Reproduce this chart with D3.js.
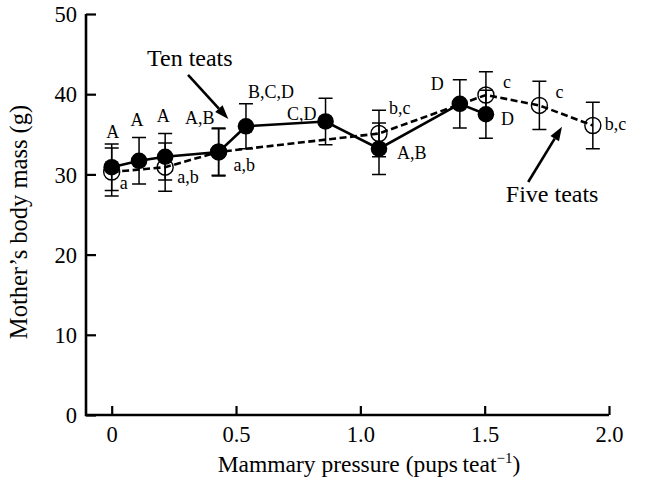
<!DOCTYPE html>
<html>
<head>
<meta charset="utf-8">
<script src="https://cdn.jsdelivr.net/npm/d3@7/dist/d3.min.js"></script>
<style>
  html, body { margin: 0; padding: 0; background: #fff; }
  svg { display: block; font-family: "Liberation Serif", "Times New Roman", serif; }
</style>
</head>
<body>
<svg id="chart" width="662" height="490"></svg>
<script>
// Ten teats (filled markers)
const tenX     = [0, 0.11, 0.215, 0.43, 0.54, 0.86, 1.075, 1.40, 1.505];
const tenMean  = [30.9, 31.7, 32.2, 32.8, 36.0, 36.6, 33.2, 38.8, 37.5];
const tenSem   = [2.9, 2.9, 2.9, 3.0, 2.8, 2.9, 3.2, 3.0, 3.0];
const tenGroup = ["A", "A", "A", "A,B", "B,C,D", "C,D", "A,B", "D", "D"];

// Five teats (open markers)
const fiveX     = [0, 0.215, 0.43, 1.075, 1.505, 1.72, 1.935];
const fiveMean  = [30.3, 30.9, 32.8, 35.1, 39.9, 38.6, 36.1];
const fiveSem   = [3.0, 3.0, 2.9, 2.9, 2.9, 3.0, 2.9];
const fiveGroup = ["a", "a,b", "a,b", "b,c", "c", "c", "b,c"];

const xTicks = [0, 0.5, 1.0, 1.5, 2.0];
const xTickLabels = ["0", "0.5", "1.0", "1.5", "2.0"];
const yTicks = [0, 10, 20, 30, 40, 50];

// label placement relative to each marker: [dx, dy, anchor]
const tenLabelPos = [
  [1, -29, "middle"], [-2, -35, "middle"], [-2, -35, "middle"], [-4, -28, "end"],
  [2, -28, "start"], [-9, -1, "end"], [18, 10, "start"], [-16, -14, "end"], [15, 11, "start"]
];
const fiveLabelPos = [
  [8, 17, "start"], [12, 16, "start"], [15, 19, "start"], [10, -19.5, "start"],
  [17, -7, "start"], [16, -7, "start"], [12, 5, "start"]
];

const svg = d3.select("#chart");
const x = d3.scaleLinear().domain([0, 2]).range([111.7, 609]);
const y = d3.scaleLinear().domain([0, 50]).range([415, 14]);
const axisLeftX = 86;

// axes
const axisG = svg.append("g").attr("stroke", "#000").attr("fill", "none");
axisG.append("path")
  .attr("d", `M${axisLeftX},${y(50)}V${y(0)}H${x(2)}`)
  .attr("stroke-width", 2.6);

const xAxis = d3.axisBottom(x).tickValues(xTicks).tickSize(-9).tickFormat((d, i) => xTickLabels[i]);
const gx = svg.append("g").attr("transform", `translate(0,${y(0)})`).call(xAxis);
gx.select(".domain").remove();
gx.selectAll(".tick line").attr("stroke", "#000").attr("stroke-width", 2.2);
gx.selectAll(".tick text")
  .attr("y", 27).attr("dy", 0)
  .attr("font-size", 22.5).attr("font-family", "Liberation Serif").attr("fill", "#000");

const yAxis = d3.axisLeft(y).tickValues(yTicks).tickSize(-10).tickFormat(d3.format("d"));
const gy = svg.append("g").attr("transform", `translate(${axisLeftX},0)`).call(yAxis);
gy.select(".domain").remove();
gy.selectAll(".tick line").attr("stroke", "#000").attr("stroke-width", 2.2);
gy.selectAll(".tick text")
  .attr("x", -9).attr("dy", "0.34em")
  .attr("font-size", 22.5).attr("font-family", "Liberation Serif").attr("fill", "#000");

// axis titles
svg.append("text")
  .attr("x", 369).attr("y", 472)
  .attr("text-anchor", "middle").attr("font-size", 23.5)
  .call(t => {
    t.append("tspan").text("Mammary pressure (pups\u2009teat");
    t.append("tspan").attr("font-size", 15).attr("dy", -9).text("\u22121");
    t.append("tspan").attr("dy", 9).text(")");
  });

svg.append("text")
  .attr("transform", `translate(27,222) rotate(-90)`)
  .attr("text-anchor", "middle").attr("font-size", 24.5)
  .text("Mother\u2019s body mass (g)");

const plot = svg.append("g");

// error bars
function errorBars(xs, means, sems) {
  const g = plot.append("g").attr("stroke", "#000").attr("stroke-width", 1.5).attr("fill", "none");
  xs.forEach((xv, i) => {
    const cx = x(xv), top = y(means[i] + sems[i]), bot = y(means[i] - sems[i]);
    g.append("path").attr("d", `M${cx},${top}V${bot}M${cx - 7},${top}H${cx + 7}M${cx - 7},${bot}H${cx + 7}`);
  });
}
errorBars(fiveX, fiveMean, fiveSem);
errorBars(tenX, tenMean, tenSem);

const line = d3.line().x(d => x(d[0])).y(d => y(d[1]));

// five teats: dashed line and open circles
plot.append("path")
  .datum(fiveX.map((v, i) => [v, fiveMean[i]]))
  .attr("d", line)
  .attr("fill", "none").attr("stroke", "#000").attr("stroke-width", 2.6)
  .attr("stroke-dasharray", "7,3.5");

plot.selectAll(".open").data(fiveX).enter().append("circle")
  .attr("cx", d => x(d)).attr("cy", (d, i) => y(fiveMean[i]))
  .attr("r", 8).attr("fill", "none").attr("stroke", "#000").attr("stroke-width", 1.4);

// ten teats: solid line and filled circles
plot.append("path")
  .datum(tenX.map((v, i) => [v, tenMean[i]]))
  .attr("d", line)
  .attr("fill", "none").attr("stroke", "#000").attr("stroke-width", 2.6);

plot.selectAll(".filled").data(tenX).enter().append("circle")
  .attr("cx", d => x(d)).attr("cy", (d, i) => y(tenMean[i]))
  .attr("r", 8.3).attr("fill", "#000");

// group letters
function groupLabels(xs, means, labels, pos) {
  plot.append("g").selectAll("text").data(labels).enter().append("text")
    .attr("x", (d, i) => x(xs[i]) + pos[i][0])
    .attr("y", (d, i) => y(means[i]) + pos[i][1])
    .attr("text-anchor", (d, i) => pos[i][2])
    .attr("font-size", 18).attr("fill", "#000")
    .text(d => d);
}
groupLabels(tenX, tenMean, tenGroup, tenLabelPos);
groupLabels(fiveX, fiveMean, fiveGroup, fiveLabelPos);

// series annotations with arrows
function arrow(x1, y1, x2, y2) {
  const px1 = x(x1), py1 = y(y1), px2 = x(x2), py2 = y(y2);
  const ang = Math.atan2(py2 - py1, px2 - px1);
  const len = 14, half = 5;
  const bx = px2 - len * Math.cos(ang), by = py2 - len * Math.sin(ang);
  svg.append("line")
    .attr("x1", px1).attr("y1", py1).attr("x2", bx).attr("y2", by)
    .attr("stroke", "#000").attr("stroke-width", 2.6);
  svg.append("path")
    .attr("d", `M${px2},${py2}L${bx + half * Math.sin(ang)},${by - half * Math.cos(ang)}L${bx - half * Math.sin(ang)},${by + half * Math.cos(ang)}Z`)
    .attr("fill", "#000");
}

svg.append("text").attr("x", x(0.142)).attr("y", y(43.5)).attr("font-size", 24).text("Ten teats");
arrow(0.307, 42.4, 0.469, 36.9);

svg.append("text").attr("x", x(1.585)).attr("y", y(26.6)).attr("font-size", 24).text("Five teats");
arrow(1.675, 29.05, 1.811, 35.95);
</script>
</body>
</html>
